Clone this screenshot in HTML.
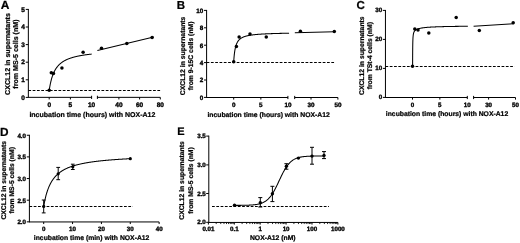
<!DOCTYPE html>
<html><head><meta charset="utf-8"><title>Figure</title>
<style>
html,body{margin:0;padding:0;background:#fff;}
body{width:520px;height:243px;overflow:hidden;}
svg text{stroke:#000;stroke-width:0.22px;}
svg text.t{stroke-width:0.36px;}
svg{display:block;font-family:"Liberation Sans",sans-serif;font-weight:bold;fill:#000;text-rendering:geometricPrecision;filter:blur(0.35px);}
</style></head><body>
<svg width="520" height="243" viewBox="0 0 520 243">
<rect width="520" height="243" fill="#fff"/>
<text x="0.80" y="8.80" font-size="12" text-anchor="start" >A</text>
<text transform="translate(9.80,54.05) rotate(-90)" font-size="7.08" text-anchor="middle">CXCL12 in supernatants</text>
<text transform="translate(18.10,54.05) rotate(-90)" font-size="7.08" text-anchor="middle">from MS-5 cells (nM)</text>
<line x1="28.35" y1="8.95" x2="28.35" y2="97.80" stroke="#000" stroke-width="1.0" />
<line x1="25.75" y1="97.40" x2="28.35" y2="97.40" stroke="#000" stroke-width="1.0" />
<text x="24.95" y="99.50" font-size="6.5" text-anchor="end"  class="t">0</text>
<line x1="25.75" y1="79.80" x2="28.35" y2="79.80" stroke="#000" stroke-width="1.0" />
<text x="24.95" y="81.90" font-size="6.5" text-anchor="end"  class="t">1</text>
<line x1="25.75" y1="62.20" x2="28.35" y2="62.20" stroke="#000" stroke-width="1.0" />
<text x="24.95" y="64.30" font-size="6.5" text-anchor="end"  class="t">2</text>
<line x1="25.75" y1="44.60" x2="28.35" y2="44.60" stroke="#000" stroke-width="1.0" />
<text x="24.95" y="46.70" font-size="6.5" text-anchor="end"  class="t">3</text>
<line x1="25.75" y1="27.00" x2="28.35" y2="27.00" stroke="#000" stroke-width="1.0" />
<text x="24.95" y="29.10" font-size="6.5" text-anchor="end"  class="t">4</text>
<line x1="25.75" y1="9.40" x2="28.35" y2="9.40" stroke="#000" stroke-width="1.0" />
<text x="24.95" y="11.50" font-size="6.5" text-anchor="end"  class="t">5</text>
<line x1="28.35" y1="97.35" x2="91.60" y2="97.35" stroke="#000" stroke-width="1.0" />
<line x1="49.20" y1="97.35" x2="49.20" y2="99.45" stroke="#000" stroke-width="1.0" />
<text x="49.20" y="106.85" font-size="6.5" text-anchor="middle"  class="t">0</text>
<line x1="70.40" y1="97.35" x2="70.40" y2="99.45" stroke="#000" stroke-width="1.0" />
<text x="70.40" y="106.85" font-size="6.5" text-anchor="middle"  class="t">5</text>
<line x1="91.60" y1="95.75" x2="91.60" y2="98.95" stroke="#000" stroke-width="1.0" />
<text x="91.60" y="106.85" font-size="6.5" text-anchor="middle"  class="t">10</text>
<line x1="97.40" y1="97.35" x2="160.30" y2="97.35" stroke="#000" stroke-width="1.0" />
<line x1="97.40" y1="95.75" x2="97.40" y2="98.95" stroke="#000" stroke-width="1.0" />
<line x1="118.90" y1="97.35" x2="118.90" y2="99.45" stroke="#000" stroke-width="1.0" />
<text x="118.90" y="106.85" font-size="6.5" text-anchor="middle"  class="t">40</text>
<line x1="139.60" y1="97.35" x2="139.60" y2="99.45" stroke="#000" stroke-width="1.0" />
<text x="139.60" y="106.85" font-size="6.5" text-anchor="middle"  class="t">60</text>
<line x1="160.30" y1="97.35" x2="160.30" y2="99.45" stroke="#000" stroke-width="1.0" />
<text x="160.30" y="106.85" font-size="6.5" text-anchor="middle"  class="t">80</text>
<text x="92.40" y="116.50" font-size="7.0" text-anchor="middle" >incubation time (hours) with NOX-A12</text>
<line x1="28.35" y1="90.50" x2="160.30" y2="90.50" stroke="#000" stroke-width="1.05" stroke-dasharray="2.75 1.55"/>
<path d="M49.20,90.36 L49.41,88.98 L49.62,87.68 L49.84,86.47 L50.05,85.33 L50.26,84.25 L50.47,83.24 L50.68,82.28 L50.90,81.38 L51.11,80.52 L51.32,79.71 L51.53,78.94 L51.74,78.20 L51.96,77.50 L52.17,76.84 L52.38,76.20 L52.59,75.59 L52.80,75.01 L53.02,74.45 L53.23,73.92 L53.44,73.41 L53.65,72.91 L53.86,72.44 L54.08,71.99 L54.29,71.55 L54.50,71.13 L54.71,70.72 L54.92,70.33 L55.14,69.96 L55.35,69.59 L55.56,69.24 L55.77,68.90 L55.98,68.57 L56.20,68.25 L56.41,67.94 L56.62,67.65 L56.83,67.36 L57.04,67.07 L57.26,66.80 L57.47,66.54 L57.68,66.28 L57.89,66.03 L58.10,65.79 L58.32,65.55 L58.53,65.32 L58.74,65.10 L58.95,64.88 L59.16,64.67 L59.38,64.47 L59.59,64.27 L59.80,64.07 L60.01,63.88 L60.22,63.69 L60.44,63.51 L60.65,63.34 L60.86,63.16 L61.07,63.00 L61.28,62.83 L61.50,62.67 L61.71,62.51 L61.92,62.36 L62.13,62.21 L62.34,62.06 L62.56,61.92 L62.77,61.78 L62.98,61.64 L63.19,61.50 L63.40,61.37 L63.62,61.24 L63.83,61.12 L64.04,60.99 L64.25,60.87 L64.46,60.75 L64.68,60.63 L64.89,60.52 L65.10,60.41 L65.31,60.30 L65.52,60.19 L65.74,60.08 L65.95,59.98 L66.16,59.87 L66.37,59.77 L66.58,59.68 L66.80,59.58 L67.01,59.48 L67.22,59.39 L67.43,59.30 L67.64,59.21 L67.86,59.12 L68.07,59.03 L68.28,58.95 L68.49,58.86 L68.70,58.78 L68.92,58.70 L69.13,58.62 L69.34,58.54 L69.55,58.46 L69.76,58.38 L69.98,58.31 L70.19,58.23 L70.40,58.16 L70.61,58.09 L70.82,58.02 L71.04,57.95 L71.25,57.88 L71.46,57.81 L71.67,57.75 L71.88,57.68 L72.10,57.62 L72.31,57.55 L72.52,57.49 L72.73,57.43 L72.94,57.37 L73.16,57.31 L73.37,57.25 L73.58,57.19 L73.79,57.13 L74.00,57.07 L74.22,57.02 L74.43,56.96 L74.64,56.91 L74.85,56.85 L75.06,56.80 L75.28,56.75 L75.49,56.70 L75.70,56.65 L75.91,56.60 L76.12,56.55 L76.34,56.50 L76.55,56.45 L76.76,56.40 L76.97,56.35 L77.18,56.31 L77.40,56.26 L77.61,56.21 L77.82,56.17 L78.03,56.12 L78.24,56.08 L78.46,56.04 L78.67,55.99 L78.88,55.95 L79.09,55.91 L79.30,55.87 L79.52,55.83 L79.73,55.79 L79.94,55.75 L80.15,55.71 L80.36,55.67 L80.58,55.63 L80.79,55.59 L81.00,55.55 L81.21,55.52 L81.42,55.48 L81.64,55.44 L81.85,55.41 L82.06,55.37 L82.27,55.34 L82.48,55.30 L82.70,55.27 L82.91,55.23 L83.12,55.20 L83.33,55.16 L83.54,55.13 L83.76,55.10 L83.97,55.07 L84.18,55.03 L84.39,55.00 L84.60,54.97 L84.82,54.94 L85.03,54.91 L85.24,54.88 L85.45,54.85 L85.66,54.82 L85.88,54.79 L86.09,54.76 L86.30,54.73 L86.51,54.70 L86.72,54.67 L86.94,54.64 L87.15,54.62 L87.36,54.59 L87.57,54.56 L87.78,54.53 L88.00,54.51 L88.21,54.48 L88.42,54.45 L88.63,54.43 L88.84,54.40 L89.06,54.37 L89.27,54.35 L89.48,54.32 L89.69,54.30 L89.90,54.27 L90.12,54.25 L90.33,54.23 L90.54,54.20 L90.75,54.18 L90.96,54.15 L91.18,54.13 L91.39,54.11 L91.60,54.08" fill="none" stroke="#000" stroke-width="1.05" stroke-linejoin="round"/>
<path d="M97.40,50.50 L153.60,37.00" fill="none" stroke="#000" stroke-width="1.05" stroke-linejoin="round"/>
<circle cx="49.20" cy="90.36" r="1.75"/>
<circle cx="51.32" cy="72.76" r="1.75"/>
<circle cx="53.44" cy="73.46" r="1.75"/>
<circle cx="61.92" cy="68.01" r="1.75"/>
<circle cx="83.12" cy="52.17" r="1.75"/>
<circle cx="101.50" cy="48.20" r="1.75"/>
<circle cx="126.80" cy="43.60" r="1.75"/>
<circle cx="152.10" cy="37.50" r="1.75"/>
<text x="176.80" y="9.00" font-size="11.5" text-anchor="start" >B</text>
<text transform="translate(185.30,55.90) rotate(-90)" font-size="6.8" text-anchor="middle">CXCL12 in supernatants</text>
<text transform="translate(193.00,55.90) rotate(-90)" font-size="6.8" text-anchor="middle">from 9-15C cells (nM)</text>
<line x1="206.60" y1="9.95" x2="206.60" y2="97.95" stroke="#000" stroke-width="1.0" />
<line x1="204.00" y1="97.40" x2="206.60" y2="97.40" stroke="#000" stroke-width="1.0" />
<text x="203.20" y="99.80" font-size="6.3" text-anchor="end"  class="t">0</text>
<line x1="204.00" y1="80.00" x2="206.60" y2="80.00" stroke="#000" stroke-width="1.0" />
<text x="203.20" y="82.40" font-size="6.3" text-anchor="end"  class="t">2</text>
<line x1="204.00" y1="62.60" x2="206.60" y2="62.60" stroke="#000" stroke-width="1.0" />
<text x="203.20" y="65.00" font-size="6.3" text-anchor="end"  class="t">4</text>
<line x1="204.00" y1="45.20" x2="206.60" y2="45.20" stroke="#000" stroke-width="1.0" />
<text x="203.20" y="47.60" font-size="6.3" text-anchor="end"  class="t">6</text>
<line x1="204.00" y1="27.80" x2="206.60" y2="27.80" stroke="#000" stroke-width="1.0" />
<text x="203.20" y="30.20" font-size="6.3" text-anchor="end"  class="t">8</text>
<line x1="204.00" y1="10.40" x2="206.60" y2="10.40" stroke="#000" stroke-width="1.0" />
<text x="203.20" y="12.80" font-size="6.3" text-anchor="end"  class="t">10</text>
<line x1="206.60" y1="97.50" x2="287.90" y2="97.50" stroke="#000" stroke-width="1.0" />
<line x1="233.70" y1="97.50" x2="233.70" y2="99.60" stroke="#000" stroke-width="1.0" />
<text x="233.70" y="106.65" font-size="6.3" text-anchor="middle"  class="t">0</text>
<line x1="260.85" y1="97.50" x2="260.85" y2="99.60" stroke="#000" stroke-width="1.0" />
<text x="260.85" y="106.65" font-size="6.3" text-anchor="middle"  class="t">5</text>
<line x1="287.90" y1="95.90" x2="287.90" y2="99.10" stroke="#000" stroke-width="1.0" />
<text x="287.90" y="106.65" font-size="6.3" text-anchor="middle"  class="t">10</text>
<line x1="294.70" y1="97.50" x2="337.90" y2="97.50" stroke="#000" stroke-width="1.0" />
<line x1="294.70" y1="95.90" x2="294.70" y2="99.10" stroke="#000" stroke-width="1.0" />
<line x1="311.00" y1="97.50" x2="311.00" y2="99.60" stroke="#000" stroke-width="1.0" />
<text x="311.00" y="106.65" font-size="6.3" text-anchor="middle"  class="t">30</text>
<line x1="337.90" y1="97.50" x2="337.90" y2="99.60" stroke="#000" stroke-width="1.0" />
<text x="337.90" y="106.65" font-size="6.3" text-anchor="middle"  class="t">50</text>
<text x="268.60" y="116.50" font-size="6.8" text-anchor="middle" >incubation time (hours) with NOX-A12</text>
<line x1="206.60" y1="62.50" x2="334.50" y2="62.50" stroke="#000" stroke-width="1.05" stroke-dasharray="2.75 1.55"/>
<path d="M233.70,61.73 L233.81,60.11 L233.92,58.67 L234.03,57.36 L234.13,56.18 L234.24,55.10 L234.35,54.12 L234.46,53.22 L234.57,52.39 L234.68,51.62 L234.79,50.91 L234.89,50.25 L235.00,49.63 L235.11,49.06 L235.22,48.52 L235.33,48.01 L235.44,47.54 L235.55,47.09 L235.65,46.67 L235.76,46.27 L235.87,45.89 L235.98,45.54 L236.09,45.20 L236.20,44.88 L236.31,44.57 L236.41,44.28 L236.52,44.00 L236.63,43.73 L236.74,43.48 L236.85,43.24 L236.96,43.00 L237.07,42.78 L237.18,42.57 L237.28,42.36 L237.39,42.16 L237.50,41.97 L237.61,41.79 L237.72,41.61 L237.83,41.45 L237.94,41.28 L238.04,41.12 L238.15,40.97 L238.26,40.82 L238.37,40.68 L238.48,40.54 L238.59,40.41 L238.70,40.28 L238.80,40.16 L238.91,40.03 L239.02,39.92 L239.13,39.80 L239.24,39.69 L239.35,39.58 L239.46,39.48 L239.56,39.38 L239.67,39.28 L239.78,39.18 L239.89,39.09 L240.00,39.00 L240.11,38.91 L240.22,38.82 L240.32,38.74 L240.43,38.66 L240.54,38.58 L240.65,38.50 L240.76,38.42 L240.87,38.35 L240.98,38.28 L241.08,38.20 L241.19,38.14 L241.30,38.07 L241.41,38.00 L241.52,37.94 L241.63,37.87 L241.74,37.81 L241.84,37.75 L241.95,37.69 L242.06,37.63 L242.17,37.58 L242.28,37.52 L242.39,37.47 L242.50,37.42 L242.61,37.36 L242.71,37.31 L242.82,37.26 L242.93,37.21 L243.04,37.16 L243.15,37.12 L243.26,37.07 L243.37,37.03 L243.47,36.98 L243.58,36.94 L243.69,36.89 L243.80,36.85 L243.91,36.81 L244.02,36.77 L244.13,36.73 L244.23,36.69 L244.34,36.65 L244.45,36.61 L244.56,36.58 L244.67,36.54 L244.78,36.50 L244.89,36.47 L244.99,36.43 L245.10,36.40 L245.21,36.36 L245.32,36.33 L245.43,36.30 L245.54,36.27 L245.65,36.24 L245.75,36.20 L245.86,36.17 L245.97,36.14 L246.08,36.11 L246.19,36.08 L246.30,36.06 L246.41,36.03 L246.51,36.00 L246.62,35.97 L246.73,35.94 L246.84,35.92 L246.95,35.89 L247.06,35.86 L247.17,35.84 L247.27,35.81 L247.38,35.79 L247.49,35.76 L247.60,35.74 L247.71,35.72 L247.82,35.69 L247.93,35.67 L248.04,35.65 L248.14,35.62 L248.25,35.60 L248.36,35.58 L248.47,35.56 L248.58,35.54 L248.69,35.51 L248.80,35.49 L248.90,35.47 L249.01,35.45 L249.12,35.43 L249.23,35.41 L249.34,35.39 L249.45,35.37 L249.56,35.35 L249.66,35.33 L249.77,35.32 L249.88,35.30 L249.99,35.28 L250.10,35.26 L250.21,35.24 L250.32,35.23 L250.42,35.21 L250.53,35.19 L250.64,35.17 L250.75,35.16 L250.86,35.14 L250.97,35.12 L251.08,35.11 L251.18,35.09 L251.29,35.08 L251.40,35.06 L251.51,35.04 L251.62,35.03 L251.73,35.01 L251.84,35.00 L251.94,34.98 L252.05,34.97 L252.16,34.95 L252.27,34.94 L252.38,34.93 L252.49,34.91 L252.60,34.90 L252.70,34.88 L252.81,34.87 L252.92,34.86 L253.03,34.84 L253.14,34.83 L253.25,34.82 L253.36,34.80 L253.47,34.79 L253.57,34.78 L253.68,34.76 L253.79,34.75 L253.90,34.74 L254.01,34.73 L254.12,34.72 L254.23,34.70 L254.33,34.69 L254.44,34.68 L254.55,34.67 L254.66,34.66 L254.77,34.65 L254.88,34.63 L254.99,34.62 L255.09,34.61 L255.20,34.60 L255.31,34.59 L255.42,34.58 L255.53,34.57 L255.64,34.56 L255.75,34.55 L255.85,34.54 L255.96,34.53 L256.07,34.52 L256.18,34.51 L256.29,34.50 L256.40,34.49 L256.51,34.48 L256.61,34.47 L256.72,34.46 L256.83,34.45 L256.94,34.44 L257.05,34.43 L257.16,34.42 L257.27,34.41 L257.37,34.40 L257.48,34.39 L257.59,34.38 L257.70,34.37 L257.81,34.36 L257.92,34.35 L258.03,34.35 L258.13,34.34 L258.24,34.33 L258.35,34.32 L258.46,34.31 L258.57,34.30 L258.68,34.29 L258.79,34.29 L258.90,34.28 L259.00,34.27 L259.11,34.26 L259.22,34.25 L259.33,34.25 L259.44,34.24 L259.55,34.23 L259.66,34.22 L259.76,34.21 L259.87,34.21 L259.98,34.20 L260.09,34.19 L260.20,34.18 L260.31,34.18 L260.42,34.17 L260.52,34.16 L260.63,34.16 L260.74,34.15 L260.85,34.14 L260.96,34.13 L261.07,34.13 L261.18,34.12 L261.28,34.11 L261.39,34.11 L261.50,34.10 L261.61,34.09 L261.72,34.09 L261.83,34.08 L261.94,34.07 L262.04,34.07 L262.15,34.06 L262.26,34.05 L262.37,34.05 L262.48,34.04 L262.59,34.03 L262.70,34.03 L262.80,34.02 L262.91,34.01 L263.02,34.01 L263.13,34.00 L263.24,34.00 L263.35,33.99 L263.46,33.98 L263.56,33.98 L263.67,33.97 L263.78,33.97 L263.89,33.96 L264.00,33.95 L264.11,33.95 L264.22,33.94 L264.33,33.94 L264.43,33.93 L264.54,33.93 L264.65,33.92 L264.76,33.91 L264.87,33.91 L264.98,33.90 L265.09,33.90 L265.19,33.89 L265.30,33.89 L265.41,33.88 L265.52,33.88 L265.63,33.87 L265.74,33.87 L265.85,33.86 L265.95,33.86 L266.06,33.85 L266.17,33.85 L266.28,33.84 L266.39,33.84 L266.50,33.83 L266.61,33.83 L266.71,33.82 L266.82,33.82 L266.93,33.81 L267.04,33.81 L267.15,33.80 L267.26,33.80 L267.37,33.79 L267.47,33.79 L267.58,33.78 L267.69,33.78 L267.80,33.77 L267.91,33.77 L268.02,33.76 L268.13,33.76 L268.23,33.75 L268.34,33.75 L268.45,33.75 L268.56,33.74 L268.67,33.74 L268.78,33.73 L268.89,33.73 L269.00,33.72 L269.10,33.72 L269.21,33.71 L269.32,33.71 L269.43,33.71 L269.54,33.70 L269.65,33.70 L269.76,33.69 L269.86,33.69 L269.97,33.69 L270.08,33.68 L270.19,33.68 L270.30,33.67 L270.41,33.67 L270.52,33.67 L270.62,33.66 L270.73,33.66 L270.84,33.65 L270.95,33.65 L271.06,33.65 L271.17,33.64 L271.28,33.64 L271.38,33.63 L271.49,33.63 L271.60,33.63 L271.71,33.62 L271.82,33.62 L271.93,33.61 L272.04,33.61 L272.14,33.61 L272.25,33.60 L272.36,33.60 L272.47,33.60 L272.58,33.59 L272.69,33.59 L272.80,33.59 L272.90,33.58 L273.01,33.58 L273.12,33.57 L273.23,33.57 L273.34,33.57 L273.45,33.56 L273.56,33.56 L273.66,33.56 L273.77,33.55 L273.88,33.55 L273.99,33.55 L274.10,33.54 L274.21,33.54 L274.32,33.54 L274.42,33.53 L274.53,33.53 L274.64,33.53 L274.75,33.52 L274.86,33.52 L274.97,33.52 L275.08,33.51 L275.19,33.51 L275.29,33.51 L275.40,33.50 L275.51,33.50 L275.62,33.50 L275.73,33.50 L275.84,33.49 L275.95,33.49 L276.05,33.49 L276.16,33.48 L276.27,33.48 L276.38,33.48 L276.49,33.47 L276.60,33.47 L276.71,33.47 L276.81,33.47 L276.92,33.46 L277.03,33.46 L277.14,33.46 L277.25,33.45 L277.36,33.45 L277.47,33.45 L277.57,33.44 L277.68,33.44 L277.79,33.44 L277.90,33.44 L278.01,33.43 L278.12,33.43 L278.23,33.43 L278.33,33.42 L278.44,33.42 L278.55,33.42 L278.66,33.42 L278.77,33.41 L278.88,33.41 L278.99,33.41 L279.09,33.41 L279.20,33.40 L279.31,33.40 L279.42,33.40 L279.53,33.40 L279.64,33.39 L279.75,33.39 L279.86,33.39 L279.96,33.38 L280.07,33.38 L280.18,33.38 L280.29,33.38 L280.40,33.37 L280.51,33.37 L280.62,33.37 L280.72,33.37 L280.83,33.36 L280.94,33.36 L281.05,33.36 L281.16,33.36 L281.27,33.35 L281.38,33.35 L281.48,33.35 L281.59,33.35 L281.70,33.34 L281.81,33.34 L281.92,33.34 L282.03,33.34 L282.14,33.34 L282.24,33.33 L282.35,33.33 L282.46,33.33 L282.57,33.33 L282.68,33.32 L282.79,33.32 L282.90,33.32 L283.00,33.32 L283.11,33.31 L283.22,33.31 L283.33,33.31 L283.44,33.31 L283.55,33.31 L283.66,33.30 L283.76,33.30 L283.87,33.30 L283.98,33.30 L284.09,33.29 L284.20,33.29 L284.31,33.29 L284.42,33.29 L284.52,33.29 L284.63,33.28 L284.74,33.28 L284.85,33.28 L284.96,33.28 L285.07,33.27 L285.18,33.27 L285.28,33.27 L285.39,33.27 L285.50,33.27 L285.61,33.26 L285.72,33.26 L285.83,33.26 L285.94,33.26 L286.05,33.26 L286.15,33.25 L286.26,33.25 L286.37,33.25 L286.48,33.25 L286.59,33.25 L286.70,33.24 L286.81,33.24 L286.91,33.24 L287.02,33.24 L287.13,33.24 L287.24,33.23 L287.35,33.23 L287.46,33.23 L287.57,33.23 L287.67,33.23 L287.78,33.22 L287.89,33.22 L288.00,33.22 L288.11,33.22 L288.22,33.22 L288.33,33.21 L288.43,33.21 L288.54,33.21 L288.65,33.21 L288.76,33.21 L288.87,33.21 L288.98,33.20 L289.09,33.20" fill="none" stroke="#000" stroke-width="1.05" stroke-linejoin="round"/>
<path d="M294.80,32.70 L334.40,31.70" fill="none" stroke="#000" stroke-width="1.05" stroke-linejoin="round"/>
<circle cx="233.70" cy="61.73" r="1.75"/>
<circle cx="236.41" cy="46.42" r="1.75"/>
<circle cx="239.13" cy="36.94" r="1.75"/>
<circle cx="249.99" cy="33.89" r="1.75"/>
<circle cx="266.28" cy="37.11" r="1.75"/>
<circle cx="300.40" cy="31.35" r="1.75"/>
<circle cx="334.30" cy="31.60" r="1.75"/>
<text x="356.60" y="9.30" font-size="11.5" text-anchor="start" >C</text>
<text transform="translate(363.80,55.70) rotate(-90)" font-size="6.8" text-anchor="middle">CXCL12 in supernatants</text>
<text transform="translate(372.00,55.70) rotate(-90)" font-size="6.8" text-anchor="middle">from TSt-4 cells (nM)</text>
<line x1="385.45" y1="9.95" x2="385.45" y2="97.95" stroke="#000" stroke-width="1.0" />
<line x1="382.85" y1="97.40" x2="385.45" y2="97.40" stroke="#000" stroke-width="1.0" />
<text x="382.25" y="99.30" font-size="6.2" text-anchor="end"  class="t">0</text>
<line x1="382.85" y1="68.40" x2="385.45" y2="68.40" stroke="#000" stroke-width="1.0" />
<text x="382.25" y="70.30" font-size="6.2" text-anchor="end"  class="t">10</text>
<line x1="382.85" y1="39.40" x2="385.45" y2="39.40" stroke="#000" stroke-width="1.0" />
<text x="382.25" y="41.30" font-size="6.2" text-anchor="end"  class="t">20</text>
<line x1="382.85" y1="10.40" x2="385.45" y2="10.40" stroke="#000" stroke-width="1.0" />
<text x="382.25" y="12.30" font-size="6.2" text-anchor="end"  class="t">30</text>
<line x1="385.45" y1="97.50" x2="467.30" y2="97.50" stroke="#000" stroke-width="1.0" />
<line x1="412.50" y1="97.50" x2="412.50" y2="99.60" stroke="#000" stroke-width="1.0" />
<text x="412.50" y="106.55" font-size="6.2" text-anchor="middle"  class="t">0</text>
<line x1="439.85" y1="97.50" x2="439.85" y2="99.60" stroke="#000" stroke-width="1.0" />
<text x="439.85" y="106.55" font-size="6.2" text-anchor="middle"  class="t">5</text>
<line x1="467.30" y1="95.90" x2="467.30" y2="99.10" stroke="#000" stroke-width="1.0" />
<text x="467.30" y="106.55" font-size="6.2" text-anchor="middle"  class="t">10</text>
<line x1="473.60" y1="97.50" x2="515.50" y2="97.50" stroke="#000" stroke-width="1.0" />
<line x1="473.60" y1="95.90" x2="473.60" y2="99.10" stroke="#000" stroke-width="1.0" />
<line x1="488.60" y1="97.50" x2="488.60" y2="99.60" stroke="#000" stroke-width="1.0" />
<text x="488.60" y="106.55" font-size="6.2" text-anchor="middle"  class="t">30</text>
<line x1="515.50" y1="97.50" x2="515.50" y2="99.60" stroke="#000" stroke-width="1.0" />
<text x="515.50" y="106.55" font-size="6.2" text-anchor="middle"  class="t">50</text>
<text x="447.00" y="116.45" font-size="6.8" text-anchor="middle" >incubation time (hours) with NOX-A12</text>
<line x1="385.45" y1="66.50" x2="514.50" y2="66.50" stroke="#000" stroke-width="1.05" stroke-dasharray="2.75 1.55"/>
<path d="M412.60,66.20 L412.60,66.20 L412.60,66.19 L412.60,66.18 L412.60,66.16 L412.60,66.12 L412.60,66.05 L412.60,65.97 L412.60,65.86 L412.60,65.71 L412.60,65.54 L412.60,65.32 L412.60,65.07 L412.60,64.78 L412.61,64.44 L412.61,64.06 L412.61,63.63 L412.61,63.16 L412.61,62.65 L412.61,62.10 L412.62,61.50 L412.62,60.87 L412.62,60.21 L412.62,59.51 L412.63,58.78 L412.63,58.04 L412.64,57.27 L412.64,56.49 L412.64,55.69 L412.65,54.89 L412.66,54.08 L412.66,53.28 L412.67,52.47 L412.67,51.68 L412.68,50.89 L412.69,50.12 L412.70,49.36 L412.70,48.62 L412.71,47.89 L412.72,47.18 L412.73,46.50 L412.74,45.83 L412.75,45.19 L412.76,44.57 L412.77,43.97 L412.79,43.39 L412.80,42.83 L412.81,42.30 L412.83,41.78 L412.84,41.29 L412.86,40.82 L412.87,40.36 L412.89,39.93 L412.90,39.51 L412.92,39.11 L412.94,38.73 L412.96,38.37 L412.98,38.02 L413.00,37.69 L413.02,37.37 L413.04,37.06 L413.06,36.77 L413.09,36.49 L413.11,36.22 L413.14,35.96 L413.16,35.71 L413.19,35.47 L413.22,35.25 L413.24,35.03 L413.27,34.82 L413.30,34.62 L413.33,34.43 L413.36,34.24 L413.40,34.06 L413.43,33.89 L413.46,33.73 L413.50,33.57 L413.53,33.41 L413.57,33.27 L413.61,33.12 L413.65,32.98 L413.69,32.85 L413.73,32.72 L413.77,32.60 L413.81,32.48 L413.86,32.36 L413.90,32.25 L413.95,32.14 L413.99,32.03 L414.04,31.93 L414.09,31.83 L414.14,31.73 L414.19,31.63 L414.25,31.54 L414.30,31.45 L414.35,31.36 L414.41,31.28 L414.47,31.20 L414.53,31.11 L414.59,31.04 L414.65,30.96 L414.71,30.88 L414.77,30.81 L414.84,30.74 L414.90,30.67 L414.97,30.60 L415.04,30.53 L415.11,30.46 L415.18,30.40 L415.25,30.33 L415.32,30.27 L415.40,30.21 L415.47,30.15 L415.55,30.09 L415.63,30.03 L415.71,29.98 L415.79,29.92 L415.88,29.86 L415.96,29.81 L416.05,29.76 L416.14,29.71 L416.22,29.65 L416.32,29.60 L416.41,29.55 L416.50,29.50 L416.60,29.46 L416.69,29.41 L416.79,29.36 L416.89,29.32 L416.99,29.27 L417.10,29.23 L417.20,29.18 L417.31,29.14 L417.41,29.10 L417.52,29.05 L417.63,29.01 L417.75,28.97 L417.86,28.93 L417.98,28.89 L418.10,28.85 L418.21,28.81 L418.34,28.78 L418.46,28.74 L418.58,28.70 L418.71,28.66 L418.84,28.63 L418.97,28.59 L419.10,28.56 L419.23,28.52 L419.37,28.49 L419.51,28.45 L419.64,28.42 L419.79,28.39 L419.93,28.36 L420.07,28.32 L420.22,28.29 L420.37,28.26 L420.52,28.23 L420.67,28.20 L420.83,28.17 L420.98,28.14 L421.14,28.11 L421.30,28.08 L421.46,28.05 L421.63,28.03 L421.79,28.00 L421.96,27.97 L422.13,27.94 L422.30,27.92 L422.48,27.89 L422.65,27.87 L422.83,27.84 L423.01,27.81 L423.19,27.79 L423.38,27.76 L423.57,27.74 L423.76,27.72 L423.95,27.69 L424.14,27.67 L424.34,27.65 L424.53,27.62 L424.73,27.60 L424.94,27.58 L425.14,27.56 L425.35,27.54 L425.56,27.51 L425.77,27.49 L425.98,27.47 L426.20,27.45 L426.41,27.43 L426.63,27.41 L426.86,27.39 L427.08,27.37 L427.31,27.35 L427.54,27.34 L427.77,27.32 L428.01,27.30 L428.24,27.28 L428.48,27.26 L428.73,27.24 L428.97,27.23 L429.22,27.21 L429.47,27.19 L429.72,27.18 L429.97,27.16 L430.23,27.14 L430.49,27.13 L430.75,27.11 L431.01,27.10 L431.28,27.08 L431.55,27.06 L431.82,27.05 L432.10,27.03 L432.37,27.02 L432.65,27.01 L432.94,26.99 L433.22,26.98 L433.51,26.96 L433.80,26.95 L434.09,26.94 L434.39,26.92 L434.69,26.91 L434.99,26.90 L435.29,26.88 L435.60,26.87 L435.91,26.86 L436.22,26.84 L436.53,26.83 L436.85,26.82 L437.17,26.81 L437.50,26.80 L437.82,26.78 L438.15,26.77 L438.48,26.76 L438.82,26.75 L439.16,26.74 L439.50,26.73 L439.84,26.72 L440.19,26.71 L440.53,26.70 L440.89,26.69 L441.24,26.68 L441.60,26.67 L441.96,26.66 L442.32,26.65 L442.69,26.64 L443.06,26.63 L443.43,26.62 L443.81,26.61 L444.19,26.60 L444.57,26.59 L444.96,26.58 L445.35,26.57 L445.74,26.56 L446.13,26.55 L446.53,26.55 L446.93,26.54 L447.33,26.53 L447.74,26.52 L448.15,26.51 L448.56,26.50 L448.98,26.50 L449.40,26.49 L449.82,26.48 L450.25,26.47 L450.68,26.46 L451.11,26.46 L451.55,26.45 L451.99,26.44 L452.43,26.44 L452.88,26.43 L453.32,26.42 L453.78,26.41 L454.23,26.41 L454.69,26.40 L455.15,26.39 L455.62,26.39 L456.09,26.38 L456.56,26.37 L457.04,26.37 L457.52,26.36 L458.00,26.35 L458.49,26.35 L458.98,26.34 L459.47,26.34 L459.97,26.33 L460.47,26.32 L460.97,26.32 L461.48,26.31 L461.99,26.31 L462.50,26.30 L463.02,26.30 L463.54,26.29 L464.07,26.29 L464.60,26.28 L465.13,26.27 L465.67,26.27 L466.21,26.26 L466.75,26.26 L467.30,26.25 L467.85,26.25" fill="none" stroke="#000" stroke-width="1.05" stroke-linejoin="round"/>
<path d="M473.60,26.20 L513.50,23.70" fill="none" stroke="#000" stroke-width="1.05" stroke-linejoin="round"/>
<circle cx="412.50" cy="66.20" r="1.75"/>
<circle cx="414.80" cy="28.90" r="1.75"/>
<circle cx="418.00" cy="30.10" r="1.75"/>
<circle cx="428.80" cy="32.90" r="1.75"/>
<circle cx="456.20" cy="17.60" r="1.75"/>
<circle cx="479.30" cy="30.40" r="1.75"/>
<circle cx="513.20" cy="22.80" r="1.75"/>
<text x="0.00" y="135.70" font-size="11.8" text-anchor="start" >D</text>
<text transform="translate(5.50,180.30) rotate(-90)" font-size="6.8" text-anchor="middle">CXCL12 in supernatants</text>
<text transform="translate(13.70,180.30) rotate(-90)" font-size="6.8" text-anchor="middle">from MS-5 cells (nM)</text>
<line x1="29.40" y1="134.80" x2="29.40" y2="222.40" stroke="#000" stroke-width="1.0" />
<line x1="26.80" y1="221.85" x2="29.40" y2="221.85" stroke="#000" stroke-width="1.0" />
<text x="26.00" y="224.35" font-size="6.2" text-anchor="end"  class="t">2.0</text>
<line x1="26.80" y1="200.20" x2="29.40" y2="200.20" stroke="#000" stroke-width="1.0" />
<text x="26.00" y="202.70" font-size="6.2" text-anchor="end"  class="t">2.5</text>
<line x1="26.80" y1="178.55" x2="29.40" y2="178.55" stroke="#000" stroke-width="1.0" />
<text x="26.00" y="181.05" font-size="6.2" text-anchor="end"  class="t">3.0</text>
<line x1="26.80" y1="156.90" x2="29.40" y2="156.90" stroke="#000" stroke-width="1.0" />
<text x="26.00" y="159.40" font-size="6.2" text-anchor="end"  class="t">3.5</text>
<line x1="26.80" y1="135.25" x2="29.40" y2="135.25" stroke="#000" stroke-width="1.0" />
<text x="26.00" y="137.75" font-size="6.2" text-anchor="end"  class="t">4.0</text>
<line x1="29.40" y1="221.95" x2="159.10" y2="221.95" stroke="#000" stroke-width="1.0" />
<line x1="43.70" y1="221.95" x2="43.70" y2="224.05" stroke="#000" stroke-width="1.0" />
<text x="43.70" y="231.45" font-size="6.2" text-anchor="middle"  class="t">0</text>
<line x1="72.56" y1="221.95" x2="72.56" y2="224.05" stroke="#000" stroke-width="1.0" />
<text x="72.56" y="231.45" font-size="6.2" text-anchor="middle"  class="t">10</text>
<line x1="101.42" y1="221.95" x2="101.42" y2="224.05" stroke="#000" stroke-width="1.0" />
<text x="101.42" y="231.45" font-size="6.2" text-anchor="middle"  class="t">20</text>
<line x1="130.28" y1="221.95" x2="130.28" y2="224.05" stroke="#000" stroke-width="1.0" />
<text x="130.28" y="231.45" font-size="6.2" text-anchor="middle"  class="t">30</text>
<line x1="159.14" y1="221.95" x2="159.14" y2="224.05" stroke="#000" stroke-width="1.0" />
<text x="159.14" y="231.45" font-size="6.2" text-anchor="middle"  class="t">40</text>
<text x="91.60" y="240.35" font-size="6.8" text-anchor="middle" >incubation time (min) with NOX-A12</text>
<line x1="29.40" y1="206.50" x2="132.80" y2="206.50" stroke="#000" stroke-width="1.05" stroke-dasharray="2.75 1.55"/>
<path d="M43.70,206.40 L43.99,204.73 L44.28,203.17 L44.57,201.70 L44.85,200.32 L45.14,199.01 L45.43,197.77 L45.72,196.60 L46.01,195.49 L46.30,194.44 L46.59,193.44 L46.87,192.49 L47.16,191.58 L47.45,190.71 L47.74,189.88 L48.03,189.09 L48.32,188.34 L48.61,187.61 L48.89,186.91 L49.18,186.25 L49.47,185.61 L49.76,184.99 L50.05,184.40 L50.34,183.83 L50.63,183.28 L50.92,182.75 L51.20,182.23 L51.49,181.74 L51.78,181.26 L52.07,180.80 L52.36,180.36 L52.65,179.93 L52.94,179.51 L53.22,179.11 L53.51,178.71 L53.80,178.33 L54.09,177.97 L54.38,177.61 L54.67,177.26 L54.96,176.92 L55.24,176.60 L55.53,176.28 L55.82,175.97 L56.11,175.67 L56.40,175.38 L56.69,175.09 L56.98,174.81 L57.26,174.54 L57.55,174.28 L57.84,174.02 L58.13,173.77 L58.42,173.53 L58.71,173.29 L59.00,173.05 L59.28,172.83 L59.57,172.60 L59.86,172.39 L60.15,172.18 L60.44,171.97 L60.73,171.77 L61.02,171.57 L61.30,171.37 L61.59,171.18 L61.88,171.00 L62.17,170.82 L62.46,170.64 L62.75,170.46 L63.04,170.29 L63.32,170.13 L63.61,169.96 L63.90,169.80 L64.19,169.65 L64.48,169.49 L64.77,169.34 L65.06,169.19 L65.34,169.05 L65.63,168.90 L65.92,168.76 L66.21,168.62 L66.50,168.49 L66.79,168.36 L67.08,168.23 L67.37,168.10 L67.65,167.97 L67.94,167.85 L68.23,167.73 L68.52,167.61 L68.81,167.49 L69.10,167.38 L69.39,167.26 L69.67,167.15 L69.96,167.04 L70.25,166.93 L70.54,166.83 L70.83,166.72 L71.12,166.62 L71.41,166.52 L71.69,166.42 L71.98,166.32 L72.27,166.23 L72.56,166.13 L72.85,166.04 L73.14,165.94 L73.43,165.85 L73.71,165.76 L74.00,165.68 L74.29,165.59 L74.58,165.50 L74.87,165.42 L75.16,165.34 L75.45,165.25 L75.73,165.17 L76.02,165.09 L76.31,165.02 L76.60,164.94 L76.89,164.86 L77.18,164.79 L77.47,164.71 L77.75,164.64 L78.04,164.57 L78.33,164.50 L78.62,164.42 L78.91,164.36 L79.20,164.29 L79.49,164.22 L79.78,164.15 L80.06,164.09 L80.35,164.02 L80.64,163.96 L80.93,163.89 L81.22,163.83 L81.51,163.77 L81.80,163.71 L82.08,163.65 L82.37,163.59 L82.66,163.53 L82.95,163.47 L83.24,163.41 L83.53,163.36 L83.82,163.30 L84.10,163.24 L84.39,163.19 L84.68,163.13 L84.97,163.08 L85.26,163.03 L85.55,162.98 L85.84,162.92 L86.12,162.87 L86.41,162.82 L86.70,162.77 L86.99,162.72 L87.28,162.67 L87.57,162.62 L87.86,162.58 L88.14,162.53 L88.43,162.48 L88.72,162.44 L89.01,162.39 L89.30,162.34 L89.59,162.30 L89.88,162.25 L90.16,162.21 L90.45,162.17 L90.74,162.12 L91.03,162.08 L91.32,162.04 L91.61,162.00 L91.90,161.96 L92.18,161.91 L92.47,161.87 L92.76,161.83 L93.05,161.79 L93.34,161.75 L93.63,161.72 L93.92,161.68 L94.21,161.64 L94.49,161.60 L94.78,161.56 L95.07,161.53 L95.36,161.49 L95.65,161.45 L95.94,161.42 L96.23,161.38 L96.51,161.35 L96.80,161.31 L97.09,161.28 L97.38,161.24 L97.67,161.21 L97.96,161.17 L98.25,161.14 L98.53,161.11 L98.82,161.07 L99.11,161.04 L99.40,161.01 L99.69,160.98 L99.98,160.95 L100.27,160.91 L100.55,160.88 L100.84,160.85 L101.13,160.82 L101.42,160.79 L101.71,160.76 L102.00,160.73 L102.29,160.70 L102.57,160.67 L102.86,160.64 L103.15,160.61 L103.44,160.59 L103.73,160.56 L104.02,160.53 L104.31,160.50 L104.59,160.47 L104.88,160.45 L105.17,160.42 L105.46,160.39 L105.75,160.37 L106.04,160.34 L106.33,160.31 L106.61,160.29 L106.90,160.26 L107.19,160.23 L107.48,160.21 L107.77,160.18 L108.06,160.16 L108.35,160.13 L108.64,160.11 L108.92,160.08 L109.21,160.06 L109.50,160.04 L109.79,160.01 L110.08,159.99 L110.37,159.97 L110.66,159.94 L110.94,159.92 L111.23,159.90 L111.52,159.87 L111.81,159.85 L112.10,159.83 L112.39,159.80 L112.68,159.78 L112.96,159.76 L113.25,159.74 L113.54,159.72 L113.83,159.70 L114.12,159.67 L114.41,159.65 L114.70,159.63 L114.98,159.61 L115.27,159.59 L115.56,159.57 L115.85,159.55 L116.14,159.53 L116.43,159.51 L116.72,159.49 L117.00,159.47 L117.29,159.45 L117.58,159.43 L117.87,159.41 L118.16,159.39 L118.45,159.37 L118.74,159.35 L119.02,159.33 L119.31,159.31 L119.60,159.30 L119.89,159.28 L120.18,159.26 L120.47,159.24 L120.76,159.22 L121.04,159.20 L121.33,159.19 L121.62,159.17 L121.91,159.15 L122.20,159.13 L122.49,159.11 L122.78,159.10 L123.07,159.08 L123.35,159.06 L123.64,159.05 L123.93,159.03 L124.22,159.01 L124.51,159.00 L124.80,158.98 L125.09,158.96 L125.37,158.95 L125.66,158.93 L125.95,158.91 L126.24,158.90 L126.53,158.88 L126.82,158.87 L127.11,158.85 L127.39,158.83 L127.68,158.82 L127.97,158.80 L128.26,158.79 L128.55,158.77 L128.84,158.76 L129.13,158.74 L129.41,158.73 L129.70,158.71 L129.99,158.70 L130.28,158.68" fill="none" stroke="#000" stroke-width="1.05" stroke-linejoin="round"/>
<line x1="43.70" y1="200.00" x2="43.70" y2="212.90" stroke="#000" stroke-width="1.0" />
<line x1="41.80" y1="200.00" x2="45.60" y2="200.00" stroke="#000" stroke-width="1.0" />
<line x1="41.80" y1="212.90" x2="45.60" y2="212.90" stroke="#000" stroke-width="1.0" />
<line x1="58.20" y1="167.40" x2="58.20" y2="179.70" stroke="#000" stroke-width="1.0" />
<line x1="56.30" y1="167.40" x2="60.10" y2="167.40" stroke="#000" stroke-width="1.0" />
<line x1="56.30" y1="179.70" x2="60.10" y2="179.70" stroke="#000" stroke-width="1.0" />
<line x1="72.80" y1="164.20" x2="72.80" y2="169.50" stroke="#000" stroke-width="1.0" />
<line x1="70.90" y1="164.20" x2="74.70" y2="164.20" stroke="#000" stroke-width="1.0" />
<line x1="70.90" y1="169.50" x2="74.70" y2="169.50" stroke="#000" stroke-width="1.0" />
<circle cx="43.70" cy="206.40" r="1.6"/>
<circle cx="58.20" cy="173.80" r="1.6"/>
<circle cx="72.80" cy="166.80" r="1.6"/>
<circle cx="130.30" cy="158.70" r="1.6"/>
<text x="177.30" y="135.40" font-size="11.0" text-anchor="start" >E</text>
<text transform="translate(184.30,180.50) rotate(-90)" font-size="6.8" text-anchor="middle">CXCL12 in supernatants</text>
<text transform="translate(192.70,180.50) rotate(-90)" font-size="6.8" text-anchor="middle">from MS-5 cells (nM)</text>
<line x1="208.80" y1="135.65" x2="208.80" y2="222.90" stroke="#000" stroke-width="1.0" />
<line x1="206.20" y1="222.30" x2="208.80" y2="222.30" stroke="#000" stroke-width="1.0" />
<text x="205.80" y="224.35" font-size="6.2" text-anchor="end"  class="t">2.0</text>
<line x1="206.20" y1="193.50" x2="208.80" y2="193.50" stroke="#000" stroke-width="1.0" />
<text x="205.80" y="195.55" font-size="6.2" text-anchor="end"  class="t">2.5</text>
<line x1="206.20" y1="164.90" x2="208.80" y2="164.90" stroke="#000" stroke-width="1.0" />
<text x="205.80" y="166.95" font-size="6.2" text-anchor="end"  class="t">3.0</text>
<line x1="206.20" y1="136.10" x2="208.80" y2="136.10" stroke="#000" stroke-width="1.0" />
<text x="205.80" y="138.15" font-size="6.2" text-anchor="end"  class="t">3.5</text>
<line x1="208.80" y1="222.45" x2="337.90" y2="222.45" stroke="#000" stroke-width="1.0" />
<line x1="208.40" y1="222.45" x2="208.40" y2="224.55" stroke="#000" stroke-width="1.0" />
<text x="208.40" y="231.40" font-size="6.2" text-anchor="middle"  class="t">0.01</text>
<line x1="234.30" y1="222.45" x2="234.30" y2="224.55" stroke="#000" stroke-width="1.0" />
<text x="234.30" y="231.40" font-size="6.2" text-anchor="middle"  class="t">0.1</text>
<line x1="260.20" y1="222.45" x2="260.20" y2="224.55" stroke="#000" stroke-width="1.0" />
<text x="260.20" y="231.40" font-size="6.2" text-anchor="middle"  class="t">1</text>
<line x1="286.10" y1="222.45" x2="286.10" y2="224.55" stroke="#000" stroke-width="1.0" />
<text x="286.10" y="231.40" font-size="6.2" text-anchor="middle"  class="t">10</text>
<line x1="312.00" y1="222.45" x2="312.00" y2="224.55" stroke="#000" stroke-width="1.0" />
<text x="312.00" y="231.40" font-size="6.2" text-anchor="middle"  class="t">100</text>
<line x1="337.90" y1="222.45" x2="337.90" y2="224.55" stroke="#000" stroke-width="1.0" />
<text x="337.90" y="231.40" font-size="6.2" text-anchor="middle"  class="t">1000</text>
<line x1="216.20" y1="222.45" x2="216.20" y2="224.05" stroke="#000" stroke-width="0.85" />
<line x1="220.76" y1="222.45" x2="220.76" y2="224.05" stroke="#000" stroke-width="0.85" />
<line x1="223.99" y1="222.45" x2="223.99" y2="224.05" stroke="#000" stroke-width="0.85" />
<line x1="226.50" y1="222.45" x2="226.50" y2="224.05" stroke="#000" stroke-width="0.85" />
<line x1="228.55" y1="222.45" x2="228.55" y2="224.05" stroke="#000" stroke-width="0.85" />
<line x1="230.29" y1="222.45" x2="230.29" y2="224.05" stroke="#000" stroke-width="0.85" />
<line x1="231.79" y1="222.45" x2="231.79" y2="224.05" stroke="#000" stroke-width="0.85" />
<line x1="233.11" y1="222.45" x2="233.11" y2="224.05" stroke="#000" stroke-width="0.85" />
<line x1="242.10" y1="222.45" x2="242.10" y2="224.05" stroke="#000" stroke-width="0.85" />
<line x1="246.66" y1="222.45" x2="246.66" y2="224.05" stroke="#000" stroke-width="0.85" />
<line x1="249.89" y1="222.45" x2="249.89" y2="224.05" stroke="#000" stroke-width="0.85" />
<line x1="252.40" y1="222.45" x2="252.40" y2="224.05" stroke="#000" stroke-width="0.85" />
<line x1="254.45" y1="222.45" x2="254.45" y2="224.05" stroke="#000" stroke-width="0.85" />
<line x1="256.19" y1="222.45" x2="256.19" y2="224.05" stroke="#000" stroke-width="0.85" />
<line x1="257.69" y1="222.45" x2="257.69" y2="224.05" stroke="#000" stroke-width="0.85" />
<line x1="259.01" y1="222.45" x2="259.01" y2="224.05" stroke="#000" stroke-width="0.85" />
<line x1="268.00" y1="222.45" x2="268.00" y2="224.05" stroke="#000" stroke-width="0.85" />
<line x1="272.56" y1="222.45" x2="272.56" y2="224.05" stroke="#000" stroke-width="0.85" />
<line x1="275.79" y1="222.45" x2="275.79" y2="224.05" stroke="#000" stroke-width="0.85" />
<line x1="278.30" y1="222.45" x2="278.30" y2="224.05" stroke="#000" stroke-width="0.85" />
<line x1="280.35" y1="222.45" x2="280.35" y2="224.05" stroke="#000" stroke-width="0.85" />
<line x1="282.09" y1="222.45" x2="282.09" y2="224.05" stroke="#000" stroke-width="0.85" />
<line x1="283.59" y1="222.45" x2="283.59" y2="224.05" stroke="#000" stroke-width="0.85" />
<line x1="284.91" y1="222.45" x2="284.91" y2="224.05" stroke="#000" stroke-width="0.85" />
<line x1="293.90" y1="222.45" x2="293.90" y2="224.05" stroke="#000" stroke-width="0.85" />
<line x1="298.46" y1="222.45" x2="298.46" y2="224.05" stroke="#000" stroke-width="0.85" />
<line x1="301.69" y1="222.45" x2="301.69" y2="224.05" stroke="#000" stroke-width="0.85" />
<line x1="304.20" y1="222.45" x2="304.20" y2="224.05" stroke="#000" stroke-width="0.85" />
<line x1="306.25" y1="222.45" x2="306.25" y2="224.05" stroke="#000" stroke-width="0.85" />
<line x1="307.99" y1="222.45" x2="307.99" y2="224.05" stroke="#000" stroke-width="0.85" />
<line x1="309.49" y1="222.45" x2="309.49" y2="224.05" stroke="#000" stroke-width="0.85" />
<line x1="310.81" y1="222.45" x2="310.81" y2="224.05" stroke="#000" stroke-width="0.85" />
<line x1="319.80" y1="222.45" x2="319.80" y2="224.05" stroke="#000" stroke-width="0.85" />
<line x1="324.36" y1="222.45" x2="324.36" y2="224.05" stroke="#000" stroke-width="0.85" />
<line x1="327.59" y1="222.45" x2="327.59" y2="224.05" stroke="#000" stroke-width="0.85" />
<line x1="330.10" y1="222.45" x2="330.10" y2="224.05" stroke="#000" stroke-width="0.85" />
<line x1="332.15" y1="222.45" x2="332.15" y2="224.05" stroke="#000" stroke-width="0.85" />
<line x1="333.89" y1="222.45" x2="333.89" y2="224.05" stroke="#000" stroke-width="0.85" />
<line x1="335.39" y1="222.45" x2="335.39" y2="224.05" stroke="#000" stroke-width="0.85" />
<line x1="336.71" y1="222.45" x2="336.71" y2="224.05" stroke="#000" stroke-width="0.85" />
<text x="272.80" y="240.20" font-size="6.8" text-anchor="middle" >NOX-A12 (nM)</text>
<line x1="212.00" y1="206.50" x2="329.00" y2="206.50" stroke="#000" stroke-width="1.05" stroke-dasharray="2.75 1.55"/>
<path d="M234.30,205.39 L234.75,205.39 L235.20,205.39 L235.65,205.39 L236.10,205.38 L236.55,205.38 L237.00,205.38 L237.45,205.38 L237.90,205.37 L238.35,205.37 L238.80,205.37 L239.25,205.36 L239.70,205.36 L240.15,205.35 L240.60,205.35 L241.05,205.35 L241.50,205.34 L241.95,205.33 L242.41,205.33 L242.86,205.32 L243.31,205.31 L243.76,205.31 L244.21,205.30 L244.66,205.29 L245.11,205.28 L245.56,205.27 L246.01,205.25 L246.46,205.24 L246.91,205.23 L247.36,205.21 L247.81,205.20 L248.26,205.18 L248.71,205.16 L249.16,205.14 L249.61,205.12 L250.06,205.10 L250.51,205.07 L250.96,205.04 L251.41,205.01 L251.86,204.98 L252.31,204.95 L252.76,204.91 L253.21,204.87 L253.66,204.82 L254.11,204.78 L254.56,204.73 L255.01,204.67 L255.46,204.61 L255.91,204.55 L256.36,204.48 L256.81,204.41 L257.26,204.33 L257.71,204.24 L258.17,204.15 L258.62,204.05 L259.07,203.94 L259.52,203.83 L259.97,203.70 L260.42,203.57 L260.87,203.42 L261.32,203.27 L261.77,203.10 L262.22,202.92 L262.67,202.73 L263.12,202.53 L263.57,202.31 L264.02,202.07 L264.47,201.82 L264.92,201.55 L265.37,201.27 L265.82,200.96 L266.27,200.63 L266.72,200.29 L267.17,199.92 L267.62,199.52 L268.07,199.11 L268.52,198.67 L268.97,198.20 L269.42,197.70 L269.87,197.18 L270.32,196.63 L270.77,196.05 L271.22,195.45 L271.67,194.81 L272.12,194.15 L272.57,193.45 L273.02,192.73 L273.47,191.98 L273.93,191.20 L274.38,190.40 L274.83,189.57 L275.28,188.72 L275.73,187.84 L276.18,186.95 L276.63,186.04 L277.08,185.11 L277.53,184.17 L277.98,183.22 L278.43,182.26 L278.88,181.30 L279.33,180.33 L279.78,179.37 L280.23,178.41 L280.68,177.45 L281.13,176.51 L281.58,175.58 L282.03,174.66 L282.48,173.76 L282.93,172.88 L283.38,172.02 L283.83,171.19 L284.28,170.38 L284.73,169.59 L285.18,168.83 L285.63,168.10 L286.08,167.40 L286.53,166.73 L286.98,166.08 L287.43,165.47 L287.88,164.88 L288.33,164.32 L288.78,163.79 L289.24,163.29 L289.69,162.82 L290.14,162.37 L290.59,161.94 L291.04,161.54 L291.49,161.17 L291.94,160.81 L292.39,160.48 L292.84,160.17 L293.29,159.87 L293.74,159.60 L294.19,159.34 L294.64,159.11 L295.09,158.88 L295.54,158.67 L295.99,158.48 L296.44,158.30 L296.89,158.13 L297.34,157.97 L297.79,157.82 L298.24,157.69 L298.69,157.56 L299.14,157.44 L299.59,157.33 L300.04,157.23 L300.49,157.13 L300.94,157.05 L301.39,156.96 L301.84,156.89 L302.29,156.82 L302.74,156.75 L303.19,156.69 L303.64,156.64 L304.09,156.58 L304.54,156.54 L305.00,156.49 L305.45,156.45 L305.90,156.41 L306.35,156.38 L306.80,156.34 L307.25,156.31 L307.70,156.29 L308.15,156.26 L308.60,156.24 L309.05,156.21 L309.50,156.19 L309.95,156.17 L310.40,156.16 L310.85,156.14 L311.30,156.12 L311.75,156.11 L312.20,156.10 L312.65,156.08 L313.10,156.07 L313.55,156.06 L314.00,156.05 L314.45,156.04 L314.90,156.04 L315.35,156.03 L315.80,156.02 L316.25,156.02 L316.70,156.01 L317.15,156.00 L317.60,156.00 L318.05,155.99 L318.50,155.99 L318.95,155.99 L319.40,155.98 L319.85,155.98 L320.30,155.98 L320.76,155.97 L321.21,155.97 L321.66,155.97 L322.11,155.96 L322.56,155.96 L323.01,155.96 L323.46,155.96 L323.91,155.96 L324.36,155.96" fill="none" stroke="#000" stroke-width="1.05" stroke-linejoin="round"/>
<line x1="260.30" y1="197.60" x2="260.30" y2="207.00" stroke="#000" stroke-width="1.0" />
<line x1="258.30" y1="197.60" x2="262.30" y2="197.60" stroke="#000" stroke-width="1.0" />
<line x1="258.30" y1="207.00" x2="262.30" y2="207.00" stroke="#000" stroke-width="1.0" />
<line x1="272.40" y1="186.30" x2="272.40" y2="201.60" stroke="#000" stroke-width="1.0" />
<line x1="270.40" y1="186.30" x2="274.40" y2="186.30" stroke="#000" stroke-width="1.0" />
<line x1="270.40" y1="201.60" x2="274.40" y2="201.60" stroke="#000" stroke-width="1.0" />
<line x1="286.40" y1="163.70" x2="286.40" y2="169.20" stroke="#000" stroke-width="1.0" />
<line x1="284.40" y1="163.70" x2="288.40" y2="163.70" stroke="#000" stroke-width="1.0" />
<line x1="284.40" y1="169.20" x2="288.40" y2="169.20" stroke="#000" stroke-width="1.0" />
<line x1="312.00" y1="147.30" x2="312.00" y2="164.20" stroke="#000" stroke-width="1.0" />
<line x1="310.00" y1="147.30" x2="314.00" y2="147.30" stroke="#000" stroke-width="1.0" />
<line x1="310.00" y1="164.20" x2="314.00" y2="164.20" stroke="#000" stroke-width="1.0" />
<line x1="324.00" y1="151.60" x2="324.00" y2="158.60" stroke="#000" stroke-width="1.0" />
<line x1="322.00" y1="151.60" x2="326.00" y2="151.60" stroke="#000" stroke-width="1.0" />
<line x1="322.00" y1="158.60" x2="326.00" y2="158.60" stroke="#000" stroke-width="1.0" />
<circle cx="234.50" cy="205.30" r="1.7"/>
<circle cx="260.30" cy="202.80" r="1.7"/>
<circle cx="272.40" cy="193.80" r="1.7"/>
<circle cx="286.40" cy="166.20" r="1.7"/>
<circle cx="298.40" cy="158.10" r="1.7"/>
<circle cx="312.00" cy="156.10" r="1.7"/>
<circle cx="324.00" cy="155.40" r="1.7"/>
</svg>
</body></html>
